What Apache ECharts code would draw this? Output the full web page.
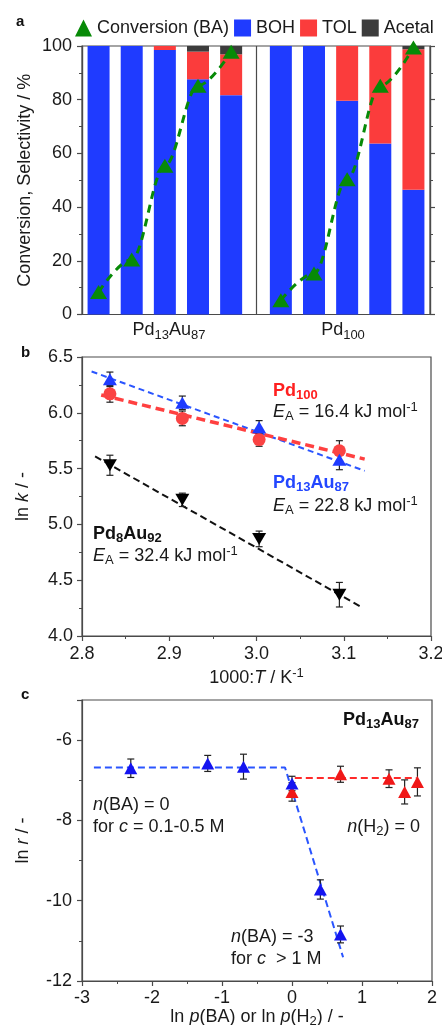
<!DOCTYPE html>
<html><head><meta charset="utf-8">
<script src="https://cdn.jsdelivr.net/npm/echarts@6/dist/echarts.min.js"></script>
<style>html,body{margin:0;padding:0;background:#fff}#c{width:442px;height:1025px}</style>
</head><body><div id="c"></div>
<script>
// ---------------- panel a data ----------------
const groups = ['Pd13Au87', 'Pd100'];
const boh = [[100, 100, 98.5, 87.6, 81.7], [100, 100, 79.6, 63.7, 46.5]];
const tol = [[0, 0, 1.5, 10.3, 15.2], [0, 0, 20.4, 36.3, 52.3]];
const acetal = [[0, 0, 0, 2.1, 3.1], [0, 0, 0, 0, 1.2]];
const conversion = [[8.4, 20.5, 55.4, 85.2, 97.9], [5.3, 15.3, 50.4, 85.2, 99.4]];
// ---------------- panel b data ----------------
const invT = [2.832, 2.915, 3.003, 3.095];
const lnkPd13Au87 = [6.30, 6.09, 5.87, 5.58];
const errPd13Au87 = [0.065, 0.06, 0.06, 0.09];
const lnkPd100 = [6.17, 5.95, 5.76, 5.66];
const errPd100 = [0.075, 0.066, 0.06, 0.09];
const lnkPd8Au92 = [5.53, 5.22, 4.87, 4.37];
const errPd8Au92 = [0.09, 0.06, 0.07, 0.11];
const fitPd13Au87 = [[2.811, 6.37], [3.124, 5.48]];
const fitPd100 = [[2.822, 6.16], [3.124, 5.585]];
const fitPd8Au92 = [[2.815, 5.61], [3.12, 4.26]];
// ---------------- panel c data ----------------
const lnpBA = [-2.303, -1.204, -0.693, 0, 0.405, 0.693];
const lnrBA = [-6.70, -6.58, -6.66, -7.08, -9.72, -10.84];
const errBA = [0.23, 0.2, 0.31, 0.18, 0.24, 0.21];
const lnpH2 = [0, 0.693, 1.386, 1.609, 1.792];
const lnrH2 = [-7.29, -6.85, -6.96, -7.29, -7.04];
const errH2 = [0.23, 0.2, 0.22, 0.3, 0.35];
const fitBA = [[-2.83, -6.68], [-0.1, -6.68], [0.73, -11.41]];
const fitH2 = [[0.04, -6.94], [1.78, -6.94]];

// ---------------- styling ----------------
const FONT = '"Liberation Sans", Arial, Helvetica, sans-serif';
const AX = '#4a4a4a';
const TXT = '#1a1a1a';
const BLUE = '#1f3bff', RED = '#fb3c3c', DARK = '#3c3c3c', GREEN = '#078a07';

function chem(str, base, sub) {
  return str.split(/(\d+)/).filter(Boolean)
    .map(t => /^\d+$/.test(t) ? '{' + sub + '|' + t + '}' : '{' + base + '|' + t + '}').join('');
}
// ECharts-model rich styles
function R(color, weight) {
  const b = {fontFamily: FONT, color: color || TXT, fontWeight: weight || 'normal'};
  return {
    n: Object.assign({}, b, {fontSize: 18, lineHeight: 22, verticalAlign: 'middle'}),
    i: Object.assign({}, b, {fontSize: 18, lineHeight: 22, verticalAlign: 'middle', fontStyle: 'italic'}),
    s: Object.assign({}, b, {fontSize: 13, lineHeight: 13, verticalAlign: 'bottom'}),
    sup: Object.assign({}, b, {fontSize: 13, lineHeight: 13, verticalAlign: 'top'})
  };
}
// zrender rich styles for graphic text
function ZR(color, weight) {
  const b = {fontFamily: FONT, fill: color || TXT, fontWeight: weight || 'normal', fontStyle: 'normal'};
  return {
    n: Object.assign({}, b, {fontSize: 18, lineHeight: 22, verticalAlign: 'middle'}),
    i: Object.assign({}, b, {fontSize: 18, lineHeight: 22, verticalAlign: 'middle', fontStyle: 'italic', fontWeight: 'normal'}),
    s: Object.assign({}, b, {fontSize: 13, lineHeight: 13, verticalAlign: 'bottom'}),
    sup: Object.assign({}, b, {fontSize: 13, lineHeight: 13, verticalAlign: 'top'})
  };
}
function gtext(text, x, y, color, weight, align) {
  return {type: 'text', x: x, y: y, z: 100, silent: true,
    style: {text: text, rich: ZR(color, weight), align: align || 'left', verticalAlign: 'middle',
      fill: color || TXT, fontFamily: FONT, fontSize: 18, fontWeight: weight || 'normal'}};
}
function letter(t, x, y) {
  return {type: 'text', x: x, y: y, z: 100, silent: true,
    style: {text: t, fill: '#111', fontFamily: FONT, fontSize: 15, fontWeight: 'bold', align: 'left', verticalAlign: 'middle'}};
}
const EA = v => '{i|E}{s|A}{n| = ' + v + ' kJ mol}{sup|-1}';

// bar slot position on the hidden value axis (5 bars per group, wider gap between groups)
const barX = (g, i) => i + 1 + g * 5.5;
// rows as [value, slot] so that the library stacks the value dimension
function flatSeries(arr) {
  const out = [];
  arr.forEach((row, g) => row.forEach((v, i) => out.push([v, barX(g, i)])));
  return out;
}

function errSeries(xs, ys, es, xi, yi, color) {
  return {type: 'custom', xAxisIndex: xi, yAxisIndex: yi, z: 3, silent: true,
    data: xs.map((x, k) => [x, ys[k] - es[k], ys[k] + es[k]]),
    encode: {x: 0, y: [1, 2]},
    renderItem: function (params, api) {
      const x = api.value(0);
      const lo = api.coord([x, api.value(1)]);
      const hi = api.coord([x, api.value(2)]);
      const w = 3.5;
      const st = {stroke: color, lineWidth: 1.2};
      return {type: 'group', children: [
        {type: 'line', shape: {x1: lo[0], y1: lo[1], x2: hi[0], y2: hi[1]}, style: st},
        {type: 'line', shape: {x1: lo[0] - w, y1: lo[1], x2: lo[0] + w, y2: lo[1]}, style: st},
        {type: 'line', shape: {x1: hi[0] - w, y1: hi[1], x2: hi[0] + w, y2: hi[1]}, style: st}
      ]};
    }};
}
function scat(name, xs, ys, xi, yi, color, symbol, size, rotate) {
  return {type: 'scatter', name: name, xAxisIndex: xi, yAxisIndex: yi, z: 6, silent: true,
    symbol: symbol, symbolSize: size, symbolRotate: rotate || 0,
    itemStyle: {color: color, opacity: 1},
    data: xs.map((x, k) => [x, ys[k]])};
}
function fit(data, xi, yi, color, width, dash) {
  return {type: 'line', xAxisIndex: xi, yAxisIndex: yi, z: 2, silent: true, symbol: 'none',
    lineStyle: {color: color, width: width, type: dash}, data: data};
}

const axisLine = {show: true, onZero: false, lineStyle: {color: AX, width: 1.2}};
const axisTick = {show: true, inside: false, length: 5, lineStyle: {color: AX, width: 1.2}};
const minorTick = {show: true, splitNumber: 2, length: 3, lineStyle: {color: AX, width: 1}};
const lab = {fontFamily: FONT, fontSize: 18, color: TXT};

function barSeries(name, arr, color) {
  return {type: 'bar', name: name, xAxisIndex: 0, yAxisIndex: 0, stack: 'sel', barWidth: 22, silent: true,
    encode: {x: 1, y: 0}, itemStyle: {color: color}, data: flatSeries(arr)};
}

const option = {
  animation: false,
  backgroundColor: '#fff',
  textStyle: {fontFamily: FONT},
  legend: {
    left: 70, top: 14, itemWidth: 17, itemHeight: 17, itemGap: 5, selectedMode: false,
    textStyle: {fontFamily: FONT, fontSize: 18, color: TXT},
    data: [{name: 'Conversion (BA)', icon: 'triangle'}, {name: 'BOH', icon: 'rect'},
           {name: 'TOL', icon: 'rect'}, {name: 'Acetal', icon: 'rect'}]
  },
  grid: [
    {left: 82, top: 46, width: 348, height: 268.5, show: true, borderColor: AX, borderWidth: 1.2, outerBoundsMode: 'none', containLabel: false},
    {left: 82, top: 357, width: 349, height: 279, show: true, borderColor: AX, borderWidth: 1.2, outerBoundsMode: 'none', containLabel: false},
    {left: 82, top: 700, width: 350, height: 281, show: true, borderColor: AX, borderWidth: 1.2, outerBoundsMode: 'none', containLabel: false}
  ],
  xAxis: [
    {gridIndex: 0, type: 'value', min: 0.5, max: 11, show: false},
    {gridIndex: 0, type: 'category', data: groups, position: 'bottom', boundaryGap: true,
      axisLine: axisLine, axisTick: {show: false},
      splitLine: {show: true, lineStyle: {color: AX, width: 1.2}},
      axisLabel: {margin: 5, formatter: v => chem(v, 'n', 's'), rich: R(TXT)}},
    {gridIndex: 1, type: 'value', min: 2.8, max: 3.2, interval: 0.1,
      axisLine: axisLine, axisTick: axisTick, minorTick: minorTick, splitLine: {show: false},
      axisLabel: Object.assign({}, lab, {margin: 9, formatter: v => v.toFixed(1)}),
      name: '{n|1000:}{i|T}{n| / K}{sup|-1}', nameLocation: 'middle', nameGap: 31, nameMoveOverlap: false,
      nameTextStyle: {rich: R(TXT)}},
    {gridIndex: 2, type: 'value', min: -3, max: 2, interval: 1,
      axisLine: axisLine, axisTick: axisTick, minorTick: minorTick, splitLine: {show: false},
      axisLabel: Object.assign({}, lab, {margin: 8}),
      name: '{n|ln }{i|p}{n|(BA) or ln }{i|p}{n|(H}{s|2}{n|) / -}', nameLocation: 'middle', nameGap: 25, nameMoveOverlap: false,
      nameTextStyle: {rich: R(TXT)}}
  ],
  yAxis: [
    {gridIndex: 0, type: 'value', position: 'left', min: 0, max: 100, interval: 20,
      axisLine: axisLine, axisTick: axisTick, minorTick: minorTick, splitLine: {show: false},
      axisLabel: Object.assign({}, lab, {margin: 10}),
      name: 'Conversion, Selectivity / %', nameLocation: 'middle', nameRotate: 90, nameGap: 48, nameMoveOverlap: false,
      nameTextStyle: {fontFamily: FONT, fontSize: 18, color: TXT}},
    {gridIndex: 0, type: 'value', position: 'right', min: 0, max: 100, interval: 20,
      axisLine: axisLine, axisTick: axisTick, minorTick: minorTick, splitLine: {show: false},
      axisLabel: {show: false}},
    {gridIndex: 1, type: 'value', min: 4, max: 6.5, interval: 0.5,
      axisLine: axisLine, axisTick: axisTick, minorTick: minorTick, splitLine: {show: false},
      axisLabel: Object.assign({}, lab, {margin: 9, formatter: v => v.toFixed(1)}),
      name: '{n|ln }{i|k}{n| / -}', nameLocation: 'middle', nameRotate: 90, nameGap: 48, nameMoveOverlap: false,
      nameTextStyle: {rich: R(TXT)}},
    {gridIndex: 2, type: 'value', min: -12, max: -5, interval: 2,
      axisLine: axisLine, axisTick: axisTick, minorTick: minorTick, splitLine: {show: false},
      axisLabel: Object.assign({}, lab, {margin: 10, showMaxLabel: false}),
      name: '{n|ln }{i|r}{n| / -}', nameLocation: 'middle', nameRotate: 90, nameGap: 48, nameMoveOverlap: false,
      nameTextStyle: {rich: R(TXT)}}
  ],
  series: [
    // panel a
    barSeries('BOH', boh, BLUE),
    barSeries('TOL', tol, RED),
    barSeries('Acetal', acetal, DARK),
    ...conversion.map((row, g) => ({
      type: 'line', name: 'Conversion (BA)', xAxisIndex: 0, yAxisIndex: 0, z: 5, silent: true,
      smooth: 0.35, smoothMonotone: 'x', symbol: 'triangle', symbolSize: [17, 14], showSymbol: true,
      itemStyle: {color: GREEN, borderWidth: 0}, lineStyle: {color: GREEN, width: 3, type: [8, 6]},
      data: row.map((v, i) => [barX(g, i), v])
    })),
    // panel b
    fit(fitPd13Au87, 2, 2, '#2a55ff', 2, [6, 4]),
    fit(fitPd100, 2, 2, '#ff4040', 3.5, [9, 5]),
    fit(fitPd8Au92, 2, 2, '#111', 2, [7, 4]),
    errSeries(invT, lnkPd100, errPd100, 2, 2, '#222'),
    errSeries(invT, lnkPd13Au87, errPd13Au87, 2, 2, '#222'),
    errSeries(invT, lnkPd8Au92, errPd8Au92, 2, 2, '#222'),
    scat('Pd100', invT, lnkPd100, 2, 2, '#fa4343', 'circle', 13),
    scat('Pd13Au87', invT, lnkPd13Au87, 2, 2, BLUE, 'triangle', [14, 12]),
    scat('Pd8Au92', invT, lnkPd8Au92, 2, 2, '#000', 'triangle', [14, 12], 180),
    // panel c
    fit(fitBA, 3, 3, '#2a55ff', 2, [7, 4]),
    fit(fitH2, 3, 3, '#ff2a2a', 2, [7, 4]),
    errSeries(lnpH2, lnrH2, errH2, 3, 3, '#222'),
    errSeries(lnpBA, lnrBA, errBA, 3, 3, '#222'),
    scat('H2', lnpH2, lnrH2, 3, 3, '#f01818', 'triangle', [13, 12]),
    scat('BA', lnpBA, lnrBA, 3, 3, '#1414f0', 'triangle', [13, 12])
  ],
  graphic: [
    letter('a', 16, 21.5), letter('b', 21, 353), letter('c', 21, 695),
    gtext('{n|Pd}{s|100}', 273, 391, '#ff2020', 'bold'),
    gtext(EA('16.4'), 273, 412),
    gtext(chem('Pd13Au87', 'n', 's'), 273, 483, '#2447ff', 'bold'),
    gtext(EA('22.8'), 273, 506),
    gtext(chem('Pd8Au92', 'n', 's'), 93, 534, '#111', 'bold'),
    gtext(EA('32.4'), 93, 556),
    gtext(chem('Pd13Au87', 'n', 's'), 419, 720, '#111', 'bold', 'right'),
    gtext('{i|n}{n|(BA) = 0}', 93, 805),
    gtext('{n|for }{i|c}{n| = 0.1-0.5 M}', 93, 827),
    gtext('{i|n}{n|(H}{s|2}{n|) = 0}', 420, 827, TXT, 'normal', 'right'),
    gtext('{i|n}{n|(BA) = -3}', 231, 937),
    gtext('{n|for }{i|c}{n|  > 1 M}', 231, 959)
  ]
};
const chart = echarts.init(document.getElementById('c'), null, {renderer: 'canvas'});
chart.setOption(option);
</script>
</body></html>
